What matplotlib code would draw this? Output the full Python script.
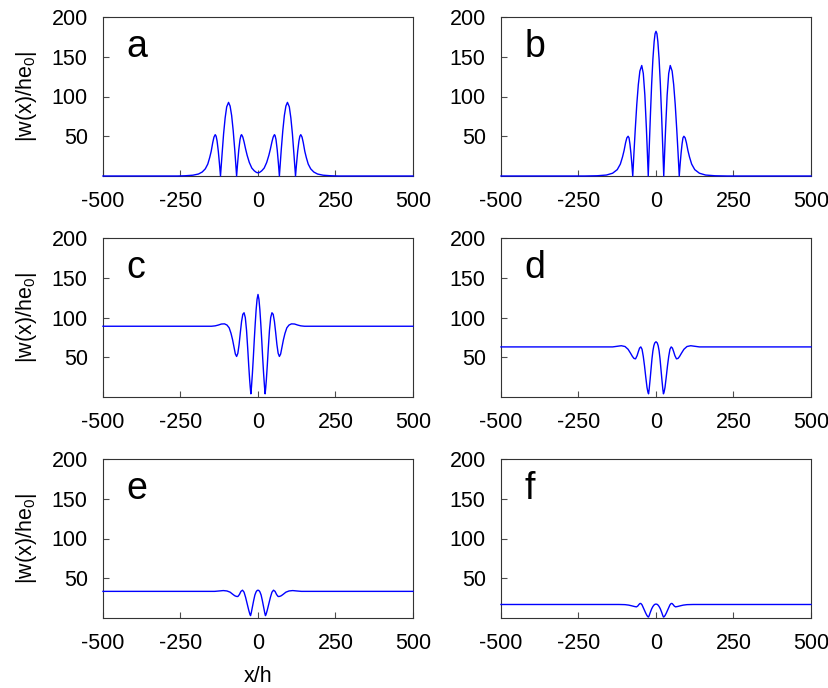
import matplotlib
matplotlib.use('Agg')
import matplotlib.pyplot as plt

plt.rcParams['font.family'] = 'Liberation Sans'
plt.rcParams['mathtext.fontset'] = 'custom'
plt.rcParams['mathtext.rm'] = 'Liberation Sans'
plt.rcParams['mathtext.default'] = 'regular'

# values, x/h vs |w(x)/he0|
xa = [-500, -260, -235, -210, -192, -180, -170, -162, -156, -151, -146, -142, -138, -135, -132, -128, -124, -121,
      -116, -111, -106, -101, -95, -90, -85, -80, -75, -69,
      -66, -62, -58, -55, -53, -49, -45, -40, -35, -28, -20, -12, -5, 0,
      5, 12, 20, 28, 35, 40, 45, 49, 53, 55, 58, 62, 66,
      69, 75, 80, 85, 90, 95, 101, 106, 111, 116,
      121, 124, 128, 132, 135, 138, 142, 146, 151, 156, 162, 170, 180, 192, 210, 235, 260, 500]
ya = [0, 0, 0.3, 1, 2.5, 5, 9, 15, 23, 31, 42, 49, 52, 50, 44, 31, 14, 0,
      27, 53, 73, 87, 92.6, 88, 76, 57, 33, 0,
      15, 33, 46, 51, 52, 49, 43, 34, 26, 17, 10, 6.5, 4.5, 4,
      4.5, 6.5, 10, 17, 26, 34, 43, 49, 52, 51, 46, 33, 15,
      0, 33, 57, 76, 88, 92.6, 87, 73, 53, 27,
      0, 14, 31, 44, 50, 52, 49, 42, 31, 23, 15, 9, 5, 2.5, 1, 0.3, 0, 0]

xb = [-500, -230, -190, -160, -140, -125, -115, -108, -103, -98, -94, -90, -87, -84, -81, -78, -75,
      -71, -67, -62, -57, -52, -46, -41, -36, -31, -28, -25,
      -22, -18, -14, -10, -6, -3, 0, 3, 6, 10, 14, 18, 22,
      25, 28, 31, 36, 41, 46, 52, 57, 62, 67, 71,
      75, 78, 81, 84, 87, 90, 94, 98, 103, 108, 115, 125, 140, 160, 190, 230, 500]
yb = [0, 0, 0.3, 1.2, 3.5, 8, 15, 24, 32, 42, 48, 50, 48, 40, 29, 15.5, 0,
      30, 58, 90, 115, 132, 139, 129, 102, 60, 31, 0,
      34, 77, 116, 147, 169, 179, 182, 179, 169, 147, 116, 77, 34,
      0, 31, 60, 102, 129, 139, 132, 115, 90, 58, 30,
      0, 15.5, 29, 40, 48, 50, 48, 42, 32, 24, 15, 8, 3.5, 1.2, 0.3, 0, 0]

xc = [-500, -150, -138, -128, -118, -108, -100, -93, -87, -82, -77, -73, -69, -65, -61, -57, -53,
      -49, -45, -41, -37, -33, -30, -27, -25, -23, -21, -18, -15, -12, -9, -6, -3, 0,
      3, 6, 9, 12, 15, 18, 21, 23, 25, 27, 30, 33, 37, 41, 45, 49,
      53, 57, 61, 65, 69, 73, 77, 82, 87, 93, 100, 108, 118, 128, 138, 150, 500]
yc = [89, 89, 89.5, 90.5, 91.8, 92, 90.5, 87, 80, 72, 62, 54, 51, 55, 66, 81, 95,
      104, 106, 100, 84, 60, 40, 22, 12, 4, 13, 30, 50, 72, 92, 110, 123, 129,
      123, 110, 92, 72, 50, 30, 13, 4, 12, 22, 40, 60, 84, 100, 106, 104,
      95, 81, 66, 55, 51, 54, 62, 72, 80, 87, 90.5, 92, 91.8, 90.5, 89.5, 89, 89]

xd = [-500, -140, -125, -112, -100, -90, -82, -76, -71, -66, -61, -57, -53, -49, -45,
      -41, -37, -33, -29, -26, -24, -22, -19, -16, -13, -10, -7, -4, 0,
      4, 7, 10, 13, 16, 19, 22, 24, 26, 29, 33, 37, 41, 45,
      49, 53, 57, 61, 66, 71, 76, 82, 90, 100, 112, 125, 140, 500]
yd = [63, 63, 63.8, 64.5, 63.5, 60, 55, 51, 48.5, 48, 52, 57, 61.5, 63, 60,
      51, 39, 25, 12, 6, 4, 10, 22, 35, 48, 58, 64.5, 68, 69.5,
      68, 64.5, 58, 48, 35, 22, 10, 4, 6, 12, 25, 39, 51, 60,
      63, 61.5, 57, 52, 48, 48.5, 51, 55, 60, 63.5, 64.5, 63.8, 63, 63]

xe = [-500, -140, -125, -112, -100, -90, -82, -75, -70, -65, -60, -55, -50,
      -45, -40, -35, -30, -26, -24, -22, -18, -14, -10, -6, -3, 0,
      3, 6, 10, 14, 18, 22, 24, 26, 30, 35, 40, 45,
      50, 55, 60, 65, 70, 75, 82, 90, 100, 112, 125, 140, 500]
ye = [33.5, 33.5, 34, 34.5, 34, 32.5, 30, 28, 27.2, 27, 29.5, 33.5, 35,
      32.5, 26, 18, 10, 4.5, 3, 6, 14, 22, 29, 33, 34.5, 35,
      34.5, 33, 29, 22, 14, 6, 3, 4.5, 10, 18, 26, 32.5,
      35, 33.5, 29.5, 27, 27.2, 28, 30, 32.5, 34, 34.5, 34, 33.5, 33.5]

xf = [-500, -120, -100, -88, -78, -70, -63, -59, -55, -52, -49, -45,
      -41, -37, -33, -29, -26, -24, -22, -18, -14, -10, -6, -3, 0,
      3, 6, 10, 14, 18, 22, 24, 26, 29, 33, 37, 41,
      45, 49, 52, 55, 59, 63, 70, 78, 88, 100, 120, 500]
yf = [17, 17, 16.8, 16.2, 15.3, 14.5, 14, 15, 17, 18.2, 18.3, 16.5,
      13, 9.5, 6, 3, 1.5, 1.2, 3, 7.5, 11.5, 14.5, 16.5, 17.3, 17.5,
      17.3, 16.5, 14.5, 11.5, 7.5, 3, 1.2, 1.5, 3, 6, 9.5, 13,
      16.5, 18.3, 18.2, 17, 15, 14, 14.5, 15.3, 16.2, 16.8, 17, 17]

letters = ['a', 'b', 'c', 'd', 'e', 'f']
xs = [xa, xb, xc, xd, xe, xf]
ys = [ya, yb, yc, yd, ye, yf]
xticks = [-500, -250, 0, 250, 500]
yticks = [50, 100, 150, 200]

W, H = 829, 688
fig = plt.figure(figsize=(W / 100, H / 100), dpi=100)

lefts = [103, 501]
tops = [17, 238, 459]
aw, ah = 310, 159

for i in range(6):
    row, col = i // 2, i % 2
    ax = fig.add_axes([lefts[col] / W, 1 - (tops[row] + ah) / H, aw / W, ah / H])
    ax.plot(xs[i], ys[i], color='#0000ff', lw=1.0, clip_on=False, zorder=3)
    ax.set_xlim(-500, 500)
    ax.set_ylim(0, 200)
    ax.set_xticks(xticks)
    ax.set_xticklabels([str(t) for t in xticks])
    ax.set_yticks(yticks)
    ax.tick_params(direction='in', length=4, width=0.8, labelsize=15.5, pad=11,
                   top=False, right=False, color='0.3')
    for s in ax.spines.values():
        s.set_linewidth(0.8)
        s.set_color('0.2')
    ax.text(0.075, 0.748, letters[i], transform=ax.transAxes, fontsize=27,
            va='baseline', ha='left')
    if col == 0:
        ax.set_ylabel('|w(x)/he$_0$|', fontsize=15.5)
        ax.yaxis.set_label_coords(-0.205, 0.5)
    if row == 2 and col == 0:
        ax.set_xlabel('x/h', fontsize=15.5)
        ax.xaxis.set_label_coords(0.5, -0.305)

fig.savefig('out.png', dpi=100)
